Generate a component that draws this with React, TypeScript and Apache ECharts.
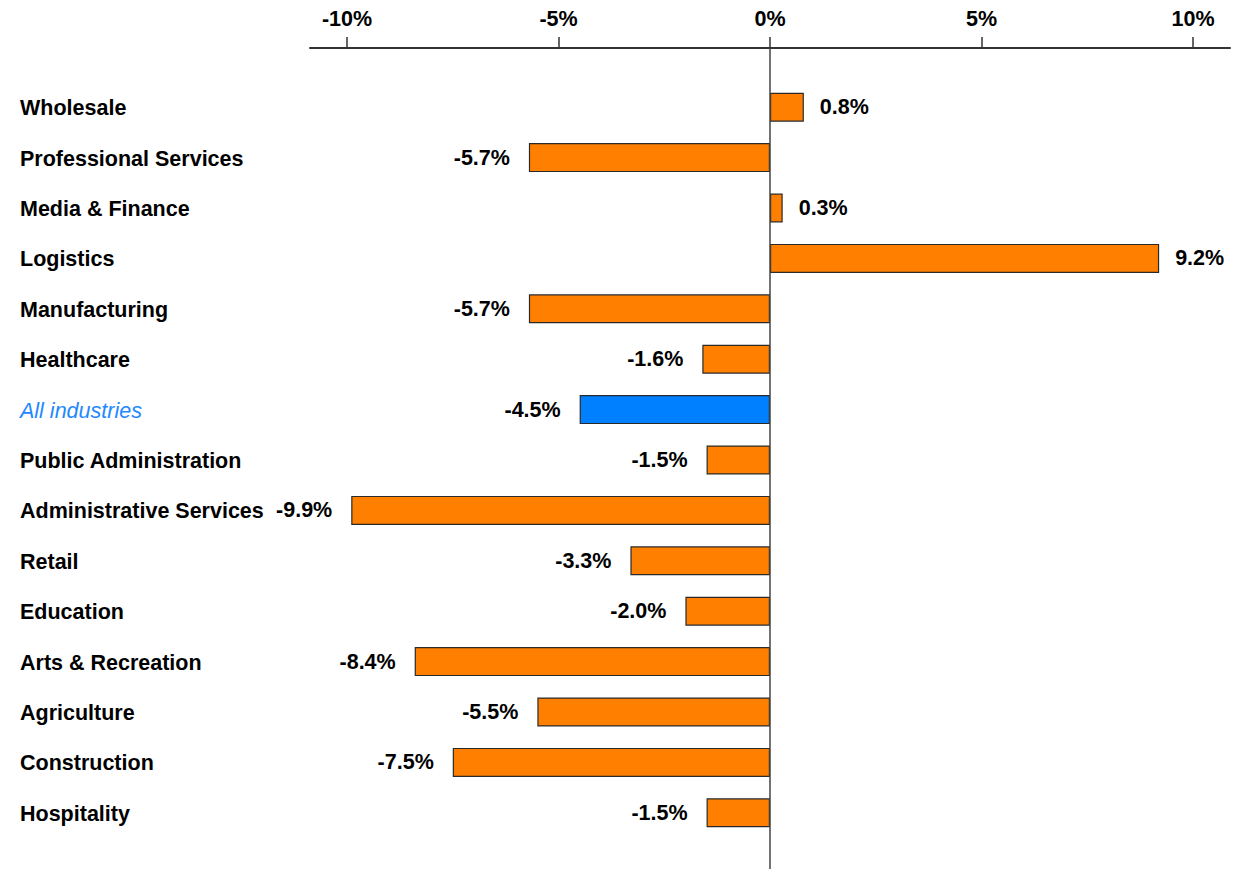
import React, { useEffect, useRef } from "react";
import * as echarts from "echarts";

const categories = [
  "Wholesale",
  "Professional Services",
  "Media & Finance",
  "Logistics",
  "Manufacturing",
  "Healthcare",
  "All industries",
  "Public Administration",
  "Administrative Services",
  "Retail",
  "Education",
  "Arts & Recreation",
  "Agriculture",
  "Construction",
  "Hospitality",
];
const values = [0.8, -5.7, 0.3, 9.2, -5.7, -1.6, -4.5, -1.5, -9.9, -3.3, -2.0, -8.4, -5.5, -7.5, -1.5];
const tickValues = [-10, -5, 0, 5, 10];
const highlight = "All industries";

export default function App() {
  const ref = useRef<HTMLDivElement>(null);
  useEffect(() => {
    if (!ref.current) return;
    const chart = echarts.init(ref.current, null, { renderer: "svg" });
    const font = "'Liberation Sans', Arial, sans-serif";
    const fs = 21.5;
    const data = values.map((v, i) => ({
      value: v,
      itemStyle: { color: categories[i] === highlight ? "#0080FF" : "#FF8000" },
      label: { position: v < 0 ? "left" : "right", distance: v < 0 ? 19 : 16 },
    }));
    chart.setOption({
      animation: false,
      backgroundColor: "#ffffff",
      grid: { left: 310, right: 13, top: 82, bottom: 31, containLabel: false },
      xAxis: {
        type: "value",
        position: "top",
        offset: 34,
        min: -10.875,
        max: 10.875,
        splitLine: { show: false },
        axisLine: { show: true, lineStyle: { color: "#333", width: 2 } },
        axisTick: { show: true, customValues: tickValues, length: 11, lineStyle: { color: "#333", width: 1.5 } },
        axisLabel: {
          customValues: tickValues,
          formatter: (v: number) => `${v}%`,
          margin: 18,
          fontFamily: font,
          fontWeight: "bold",
          fontSize: fs,
          color: "#000",
        },
      },
      yAxis: {
        type: "category",
        inverse: true,
        data: categories,
        axisLine: { show: false },
        axisTick: { show: false },
        splitLine: { show: false },
        axisLabel: {
          align: "left",
          margin: 290,
          formatter: (v: string) => (v === highlight ? `{hl|${v}}` : `{b|${v}}`),
          rich: {
            b: { fontFamily: font, fontWeight: "bold", fontSize: fs, color: "#000", padding: [2, 0, 0, 0] },
            hl: { fontFamily: font, fontStyle: "italic", fontWeight: "normal", fontSize: fs, color: "#2288FF", padding: [2, 0, 0, 0] },
          },
        },
      },
      series: [
        {
          type: "bar",
          data,
          barWidth: 29,
          itemStyle: { borderColor: "#2a2a2a", borderWidth: 1.2 },
          label: {
            show: true,
            formatter: (p: any) => `${Number(p.value).toFixed(1)}%`,
            fontFamily: font,
            fontWeight: "bold",
            fontSize: fs,
            color: "#000",
          },
        },
      ],
    });
    const x0 = chart.convertToPixel({ xAxisIndex: 0 }, 0) as number;
    chart.setOption({
      graphic: [
        {
          type: "line",
          z: 10,
          shape: { x1: x0, y1: 48, x2: x0, y2: 869 },
          style: { stroke: "#444", lineWidth: 1.5 },
        },
      ],
    });
    return () => chart.dispose();
  }, []);
  return (
    <div
      ref={ref}
      style={{ position: "fixed", left: 0, top: 0, width: 1243, height: 869, background: "#fff" }}
    />
  );
}
